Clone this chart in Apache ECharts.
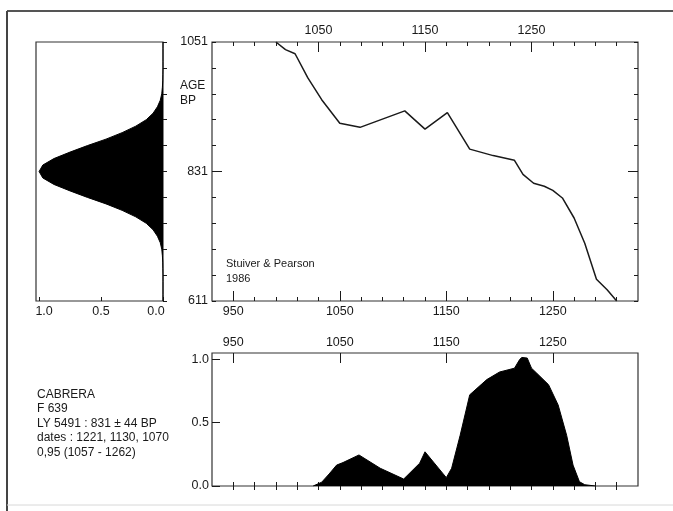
<!DOCTYPE html>
<html>
<head>
<meta charset="utf-8">
<script src="https://cdn.jsdelivr.net/npm/echarts@6/dist/echarts.min.js"></script>
<style>
html,body{margin:0;padding:0;background:#fff;}
#c{width:673px;height:511px;}
</style>
</head>
<body>
<div id="c"></div>
<script>
// ---- data ----
var gaussAges = [611,622,633,644,655,666,677,688,699,710,721,732,743,754,765,776,787,798,809,820,
                 831,842,853,864,875,886,897,908,919,930,941,952,963,974,985,996,1007,1018,1029,1040,1051];
var gaussValues = [0,0,0,0,0,0.001,0.002,0.005,0.01,0.022,0.045,0.08,0.135,0.22,0.33,0.46,0.61,0.75,0.88,0.97,
                   1.00,0.97,0.88,0.75,0.61,0.46,0.33,0.22,0.135,0.08,0.045,0.022,0.01,0.005,0.002,0.001,0,0,0,0,0];

var calYears = [990,999,1008,1020,1033,1050,1069,1111,1130,1151,1172,1194,1214,1222,1232,1242,1250,1259,1270,1280,1291,1301,1310];
var calAges  = [1051,1038,1031,990,953,913,906,934,903,931,869,858,850,826,811,806,799,786,752,709,648,630,611];

var probYears = [1025,1033,1040,1047,1053,1068,1088,1110,1125,1130,1150,1155,1163,1172,1188,1200,1214,1219,1221,1226,1230,1235,1246,1255,1263,1269,1275,1280,1290];
var probValues = [0,0.03,0.095,0.165,0.185,0.245,0.14,0.055,0.18,0.27,0.066,0.14,0.40,0.72,0.84,0.90,0.93,1.0,1.015,1.01,0.93,0.89,0.80,0.64,0.40,0.165,0.034,0.01,0];

var yearMinorTicks = [950,970,990,1010,1030,1050,1070,1090,1110,1130,1150,1170,1190,1210,1230,1250,1270,1290,1310];
var yearMajorTicks = [950,1050,1150,1250];
var topMinorTicks = [970,990,1010,1030,1050,1070,1090,1110,1130,1150,1170,1190,1210,1230,1250,1270,1290,1310,1330];
var topMajorTicks = [1050,1150,1250];
var ageTicks = [611,655,699,743,787,831,875,919,963,1007,1051];
var ageLabels = [611,831,1051];
var ageMajor = [831];
var probTicks = [0,0.5,1.0];

// ---- chart ----
var FONT = "'Liberation Sans', Arial, Helvetica, sans-serif";
var INK = '#1a1a1a';
var chart = echarts.init(document.getElementById('c'), null, {renderer:'canvas'});

function plain(v){ return String(v); }

function tickAxis(o){
  var base = {
    splitLine:{show:false},
    axisLine:{show:false},
    axisTick:{show:true, inside:true, length:4, lineStyle:{color:INK, width:1}},
    axisLabel:{show:false, fontFamily:FONT, fontSize:12.5, color:INK, margin:4, formatter:plain}
  };
  for (var k in o){
    if (k==='axisTick' || k==='axisLabel'){ for (var j in o[k]) base[k][j]=o[k][j]; }
    else base[k]=o[k];
  }
  return base;
}

var gaussData = gaussValues.map(function(v,i){ return [v, i]; });
var calData = calYears.map(function(y,i){ return [y, calAges[i]]; });
var probData = probYears.map(function(y,i){ return [y, probValues[i]]; });

var option = {
  animation:false,
  backgroundColor:'#fff',
  grid:[
    {left:36, top:42, width:127, height:259, show:true, borderColor:'#333', borderWidth:1.2, backgroundColor:'transparent'},
    {left:212, top:42, width:426, height:259, show:true, borderColor:'#333', borderWidth:1.2, backgroundColor:'transparent'},
    {left:212, top:353, width:426, height:133, show:true, borderColor:'#333', borderWidth:1.2, backgroundColor:'transparent'}
  ],
  xAxis:[
    tickAxis({type:'value', gridIndex:0, position:'bottom', inverse:true, min:0, max:1.025,
      axisTick:{customValues:probTicks},
      axisLabel:{show:true, customValues:probTicks, margin:4,
        formatter:function(v){ if(v===1) return '{l|1.0}'; if(v===0) return '{r|0.0}'; return v.toFixed(1); },
        rich:{ l:{padding:[0,0,0,10], fontFamily:FONT, fontSize:12.5, color:INK},
               r:{padding:[0,14,0,0], fontFamily:FONT, fontSize:12.5, color:INK} }
      }}),
    tickAxis({type:'value', gridIndex:1, position:'bottom', min:930, max:1330,
      axisTick:{customValues:yearMinorTicks}}),
    tickAxis({type:'value', gridIndex:1, position:'bottom', min:930, max:1330,
      axisTick:{customValues:yearMajorTicks, length:10},
      axisLabel:{show:true, customValues:yearMajorTicks, margin:4}}),
    tickAxis({type:'value', gridIndex:1, position:'top', min:950, max:1350,
      axisTick:{customValues:topMinorTicks}}),
    tickAxis({type:'value', gridIndex:1, position:'top', min:950, max:1350,
      axisTick:{customValues:topMajorTicks, length:10},
      axisLabel:{show:true, customValues:topMajorTicks, margin:5}}),
    tickAxis({type:'value', gridIndex:2, position:'top', min:930, max:1330,
      axisTick:{customValues:yearMinorTicks}}),
    tickAxis({type:'value', gridIndex:2, position:'top', min:930, max:1330,
      axisTick:{customValues:yearMajorTicks, length:10},
      axisLabel:{show:true, customValues:yearMajorTicks, margin:4}}),
    tickAxis({type:'value', gridIndex:2, position:'bottom', min:930, max:1330,
      axisTick:{customValues:yearMinorTicks}})
  ],
  yAxis:[
    tickAxis({type:'category', gridIndex:0, position:'left', boundaryGap:false, data:gaussAges,
      axisTick:{interval:function(idx){ return idx%4===0; }}}),
    tickAxis({type:'value', gridIndex:1, position:'left', min:611, max:1051,
      axisTick:{customValues:ageTicks},
      axisLabel:{show:true, customValues:ageLabels, margin:4}}),
    tickAxis({type:'value', gridIndex:1, position:'left', min:611, max:1051,
      axisTick:{customValues:ageMajor, length:10}}),
    tickAxis({type:'value', gridIndex:1, position:'right', min:611, max:1051,
      axisTick:{customValues:ageTicks}}),
    tickAxis({type:'value', gridIndex:1, position:'right', min:611, max:1051,
      axisTick:{customValues:ageMajor, length:10}}),
    tickAxis({type:'value', gridIndex:2, position:'left', min:0, max:1.05,
      axisTick:{customValues:probTicks, length:8},
      axisLabel:{show:true, customValues:probTicks, margin:3,
        formatter:function(v){ return v.toFixed(1); }}})
  ],
  series:[
    {type:'line', xAxisIndex:0, yAxisIndex:0, data:gaussData, symbol:'none', silent:true,
      lineStyle:{color:'#000', width:1}, areaStyle:{color:'#000', opacity:1}},
    {type:'line', xAxisIndex:1, yAxisIndex:1, data:calData, symbol:'none', silent:true,
      lineStyle:{color:INK, width:1.5}},
    {type:'line', xAxisIndex:5, yAxisIndex:5, data:probData, symbol:'none', silent:true,
      lineStyle:{color:'#000', width:1}, areaStyle:{color:'#000', opacity:1}}
  ],
  graphic:[
    {type:'line', shape:{x1:7, y1:11, x2:673, y2:11}, style:{stroke:'#555', lineWidth:2}, silent:true},
    {type:'line', shape:{x1:7, y1:11, x2:7, y2:511}, style:{stroke:'#444', lineWidth:2}, silent:true},
    {type:'line', shape:{x1:7, y1:505, x2:673, y2:505}, style:{stroke:'#d8d8d8', lineWidth:1}, silent:true},
    {type:'text', left:180, top:78, silent:true,
      style:{text:'AGE\nBP', font:'12px '+FONT, lineHeight:15, fill:INK}},
    {type:'text', left:226, top:256, silent:true,
      style:{text:'Stuiver & Pearson\n1986', font:'11px '+FONT, lineHeight:15, fill:INK}},
    {type:'text', left:37, top:387, silent:true,
      style:{text:'CABRERA\nF 639\nLY 5491 : 831 \u00b1 44 BP\ndates : 1221, 1130, 1070\n0,95 (1057 - 1262)',
        font:'12px '+FONT, lineHeight:14.5, fill:INK}}
  ]
};
chart.setOption(option);
</script>
</body>
</html>
